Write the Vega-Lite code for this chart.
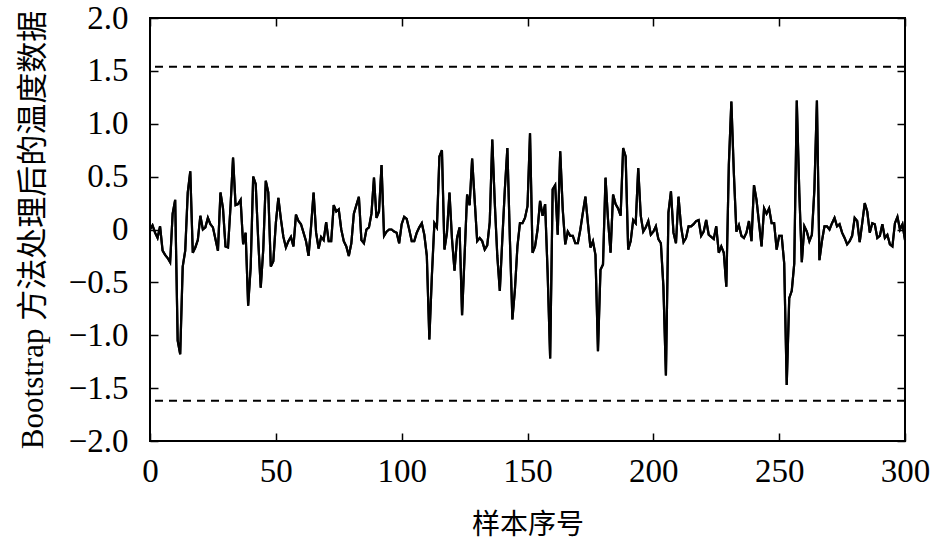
{
  "$schema": "https://vega.github.io/schema/vega-lite/v6.json",
  "width": 755,
  "height": 423,
  "autosize": {"type": "none"},
  "padding": {"left": 150, "top": 18, "right": 40, "bottom": 102},
  "background": "white",
  "config": {
    "font": "Liberation Serif",
    "view": {"stroke": "black", "strokeWidth": 2},
    "axis": {
      "grid": false,
      "domain": false,
      "tickColor": "black",
      "tickWidth": 1.5,
      "tickSize": -8,
      "labelFlush": false,
      "labelFont": "Liberation Serif",
      "labelFontSize": 33,
      "labelColor": "black",
      "titleFont": "Liberation Serif, Noto Sans CJK SC",
      "titleFontWeight": "normal",
      "titleColor": "black"
    }
  },
  "datasets": {
    "s": [
{"i":0,"v":0.0},{"i":1,"v":0.04},{"i":2,"v":-0.03},{"i":3,"v":-0.08},{"i":4,"v":0.03},{"i":5,"v":-0.2},{"i":6,"v":-0.24},{"i":7,"v":-0.27},{"i":8,"v":-0.31},{"i":9,"v":0.15},
{"i":10,"v":0.28},{"i":11,"v":-1.05},{"i":12,"v":-1.18},{"i":13,"v":-0.35},{"i":14,"v":-0.2},{"i":15,"v":0.35},{"i":16,"v":0.55},{"i":17,"v":-0.22},{"i":18,"v":-0.17},{"i":19,"v":-0.1},
{"i":20,"v":0.13},{"i":21,"v":0.0},{"i":22,"v":0.02},{"i":23,"v":0.11},{"i":24,"v":0.05},{"i":25,"v":0.02},{"i":26,"v":-0.09},{"i":27,"v":-0.2},{"i":28,"v":0.35},{"i":29,"v":0.2},
{"i":30,"v":-0.16},{"i":31,"v":-0.17},{"i":32,"v":0.22},{"i":33,"v":0.68},{"i":34,"v":0.23},{"i":35,"v":0.24},{"i":36,"v":0.28},{"i":37,"v":-0.14},{"i":38,"v":-0.03},{"i":39,"v":-0.72},
{"i":40,"v":-0.36},{"i":41,"v":0.5},{"i":42,"v":0.43},{"i":43,"v":-0.1},{"i":44,"v":-0.55},{"i":45,"v":-0.19},{"i":46,"v":0.46},{"i":47,"v":0.35},{"i":48,"v":-0.35},{"i":49,"v":-0.3},
{"i":50,"v":0.06},{"i":51,"v":0.3},{"i":52,"v":0.1},{"i":53,"v":-0.07},{"i":54,"v":-0.17},{"i":55,"v":-0.11},{"i":56,"v":-0.07},{"i":57,"v":-0.16},{"i":58,"v":0.14},{"i":59,"v":0.08},
{"i":60,"v":0.05},{"i":61,"v":-0.03},{"i":62,"v":-0.11},{"i":63,"v":-0.25},{"i":64,"v":0.03},{"i":65,"v":0.35},{"i":66,"v":-0.03},{"i":67,"v":-0.18},{"i":68,"v":-0.07},{"i":69,"v":-0.1},
{"i":70,"v":0.07},{"i":71,"v":-0.11},{"i":72,"v":-0.11},{"i":73,"v":0.23},{"i":74,"v":0.17},{"i":75,"v":0.19},{"i":76,"v":0.0},{"i":77,"v":-0.11},{"i":78,"v":-0.16},{"i":79,"v":-0.25},
{"i":80,"v":-0.13},{"i":81,"v":0.15},{"i":82,"v":0.23},{"i":83,"v":0.31},{"i":84,"v":-0.1},{"i":85,"v":-0.13},{"i":86,"v":0.0},{"i":87,"v":0.02},{"i":88,"v":0.15},{"i":89,"v":0.49},
{"i":90,"v":0.11},{"i":91,"v":0.17},{"i":92,"v":0.61},{"i":93,"v":-0.06},{"i":94,"v":-0.02},{"i":95,"v":0.0},{"i":96,"v":0.0},{"i":97,"v":-0.02},{"i":98,"v":-0.03},{"i":99,"v":-0.13},
{"i":100,"v":0.05},{"i":101,"v":0.12},{"i":102,"v":0.1},{"i":103,"v":0.0},{"i":104,"v":-0.11},{"i":105,"v":-0.11},{"i":106,"v":-0.03},{"i":107,"v":0.02},{"i":108,"v":0.06},{"i":109,"v":-0.05},
{"i":110,"v":-0.25},{"i":111,"v":-1.04},{"i":112,"v":-0.44},{"i":113,"v":0.06},{"i":114,"v":0.02},{"i":115,"v":0.69},{"i":116,"v":0.75},{"i":117,"v":-0.19},{"i":118,"v":-0.03},{"i":119,"v":0.35},
{"i":120,"v":-0.09},{"i":121,"v":-0.39},{"i":122,"v":-0.08},{"i":123,"v":0.02},{"i":124,"v":-0.81},{"i":125,"v":-0.25},{"i":126,"v":0.33},{"i":127,"v":0.23},{"i":128,"v":0.67},{"i":129,"v":0.28},
{"i":130,"v":-0.11},{"i":131,"v":-0.08},{"i":132,"v":-0.11},{"i":133,"v":-0.19},{"i":134,"v":-0.15},{"i":135,"v":0.07},{"i":136,"v":0.85},{"i":137,"v":0.25},{"i":138,"v":-0.25},{"i":139,"v":-0.58},
{"i":140,"v":-0.09},{"i":141,"v":0.38},{"i":142,"v":0.77},{"i":143,"v":-0.09},{"i":144,"v":-0.85},{"i":145,"v":-0.57},{"i":146,"v":-0.16},{"i":147,"v":0.06},{"i":148,"v":0.06},{"i":149,"v":0.11},
{"i":150,"v":0.22},{"i":151,"v":0.91},{"i":152,"v":-0.22},{"i":153,"v":-0.16},{"i":154,"v":0.0},{"i":155,"v":0.27},{"i":156,"v":0.13},{"i":157,"v":0.24},{"i":158,"v":-0.41},{"i":159,"v":-1.22},
{"i":160,"v":0.38},{"i":161,"v":0.42},{"i":162,"v":-0.05},{"i":163,"v":0.74},{"i":164,"v":0.19},{"i":165,"v":-0.14},{"i":166,"v":-0.02},{"i":167,"v":-0.06},{"i":168,"v":-0.06},{"i":169,"v":-0.13},
{"i":170,"v":-0.13},{"i":171,"v":0.0},{"i":172,"v":0.16},{"i":173,"v":0.31},{"i":174,"v":0.06},{"i":175,"v":-0.17},{"i":176,"v":-0.11},{"i":177,"v":-0.24},{"i":178,"v":-1.15},{"i":179,"v":-0.38},
{"i":180,"v":-0.33},{"i":181,"v":0.49},{"i":182,"v":0.09},{"i":183,"v":-0.22},{"i":184,"v":0.33},{"i":185,"v":0.24},{"i":186,"v":0.2},{"i":187,"v":0.13},{"i":188,"v":0.77},{"i":189,"v":0.69},
{"i":190,"v":-0.19},{"i":191,"v":-0.11},{"i":192,"v":0.09},{"i":193,"v":0.06},{"i":194,"v":0.58},{"i":195,"v":0.13},{"i":196,"v":-0.02},{"i":197,"v":0.02},{"i":198,"v":0.08},{"i":199,"v":-0.05},
{"i":200,"v":-0.02},{"i":201,"v":0.03},{"i":202,"v":-0.09},{"i":203,"v":-0.13},{"i":204,"v":-0.54},{"i":205,"v":-1.38},{"i":206,"v":0.16},{"i":207,"v":0.36},{"i":208,"v":-0.03},{"i":209,"v":-0.13},
{"i":210,"v":0.31},{"i":211,"v":0.03},{"i":212,"v":-0.12},{"i":213,"v":-0.08},{"i":214,"v":0.03},{"i":215,"v":0.03},{"i":216,"v":0.05},{"i":217,"v":0.08},{"i":218,"v":0.09},{"i":219,"v":-0.06},
{"i":220,"v":-0.02},{"i":221,"v":0.09},{"i":222,"v":-0.05},{"i":223,"v":-0.07},{"i":224,"v":-0.09},{"i":225,"v":0.03},{"i":226,"v":-0.22},{"i":227,"v":-0.16},{"i":228,"v":-0.22},{"i":229,"v":-0.54},
{"i":230,"v":0.61},{"i":231,"v":1.21},{"i":232,"v":0.53},{"i":233,"v":-0.02},{"i":234,"v":0.04},{"i":235,"v":-0.06},{"i":236,"v":-0.08},{"i":237,"v":-0.03},{"i":238,"v":0.08},{"i":239,"v":-0.11},
{"i":240,"v":0.42},{"i":241,"v":0.28},{"i":242,"v":0.06},{"i":243,"v":-0.16},{"i":244,"v":0.2},{"i":245,"v":0.15},{"i":246,"v":0.2},{"i":247,"v":0.06},{"i":248,"v":0.06},{"i":249,"v":-0.19},
{"i":250,"v":-0.06},{"i":251,"v":-0.06},{"i":252,"v":-0.32},{"i":253,"v":-1.47},{"i":254,"v":-0.65},{"i":255,"v":-0.58},{"i":256,"v":-0.32},{"i":257,"v":1.22},{"i":258,"v":0.35},{"i":259,"v":-0.31},
{"i":260,"v":0.03},{"i":261,"v":-0.02},{"i":262,"v":-0.11},{"i":263,"v":-0.05},{"i":264,"v":0.38},{"i":265,"v":1.22},{"i":266,"v":-0.29},{"i":267,"v":-0.11},{"i":268,"v":0.03},{"i":269,"v":0.03},
{"i":270,"v":0.0},{"i":271,"v":0.06},{"i":272,"v":0.11},{"i":273,"v":0.03},{"i":274,"v":0.05},{"i":275,"v":-0.03},{"i":276,"v":-0.08},{"i":277,"v":-0.14},{"i":278,"v":-0.11},{"i":279,"v":-0.06},
{"i":280,"v":0.11},{"i":281,"v":0.08},{"i":282,"v":-0.12},{"i":283,"v":0.06},{"i":284,"v":0.25},{"i":285,"v":0.17},{"i":286,"v":-0.03},{"i":287,"v":0.06},{"i":288,"v":0.05},{"i":289,"v":-0.08},
{"i":290,"v":-0.06},{"i":291,"v":0.05},{"i":292,"v":-0.08},{"i":293,"v":-0.05},{"i":294,"v":-0.14},{"i":295,"v":-0.16},{"i":296,"v":0.06},{"i":297,"v":0.12},{"i":298,"v":0.0},{"i":299,"v":0.05},
{"i":300,"v":-0.1}
    ],
    "thr": [{"t": 1.54}, {"t": -1.62}]
  },
  "layer": [
    {
      "data": {"name": "thr"},
      "mark": {"type": "rule", "color": "black", "strokeWidth": 2, "strokeDash": [8, 6]},
      "encoding": {
        "y": {"field": "t", "type": "quantitative", "scale": {"domain": [-2, 2], "nice": false}, "axis": null}
      }
    },
    {
      "data": {"name": "s"},
      "mark": {"type": "line", "color": "black", "strokeWidth": 2.2},
      "encoding": {
        "x": {
          "field": "i", "type": "quantitative",
          "scale": {"domain": [0, 300], "nice": false},
          "axis": {"orient": "bottom", "values": [0, 50, 100, 150, 200, 250, 300], "title": "样本序号", "titleFontSize": 28, "labelFont": "Liberation Serif", "labelPadding": 22, "titlePadding": 23, "format": "d"}
        },
        "y": {
          "field": "v", "type": "quantitative",
          "scale": {"domain": [-2, 2], "nice": false},
          "axis": {"orient": "left", "values": [-2, -1.5, -1, -0.5, 0, 0.5, 1, 1.5, 2], "title": "Bootstrap 方法处理后的温度数据", "titleFontSize": 31, "labelFont": "Liberation Serif", "labelPadding": 30, "titlePadding": 19,
                   "labelExpr": "datum.value == 0 ? '0' : format(datum.value, '.1f')"}
        }
      }
    },
    {
      "data": {"name": "s"},
      "mark": {"type": "line", "color": "black", "strokeWidth": 2.2},
      "encoding": {
        "x": {
          "field": "i", "type": "quantitative",
          "scale": {"domain": [0, 300], "nice": false},
          "axis": {"orient": "top", "values": [0, 50, 100, 150, 200, 250, 300], "labels": false, "title": null}
        },
        "y": {
          "field": "v", "type": "quantitative",
          "scale": {"domain": [-2, 2], "nice": false},
          "axis": {"orient": "right", "values": [-2, -1.5, -1, -0.5, 0, 0.5, 1, 1.5, 2], "labels": false, "title": null}
        }
      }
    }
  ],
  "resolve": {"axis": {"x": "independent", "y": "independent"}}
}
